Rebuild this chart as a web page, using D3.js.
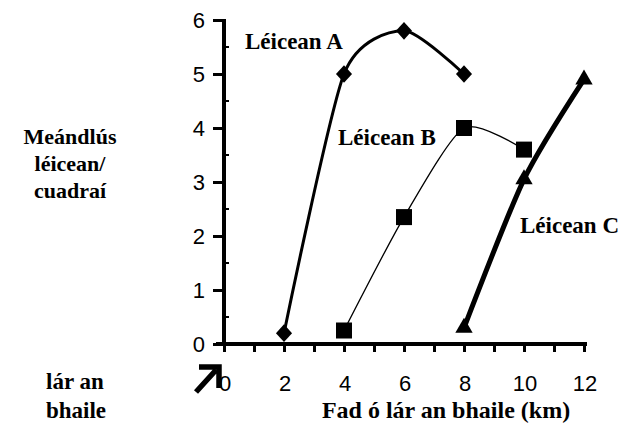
<!DOCTYPE html>
<html>
<head>
<meta charset="utf-8">
<script src="https://cdn.jsdelivr.net/npm/d3@7"></script>
<style>
  body { margin: 0; background: #fff; }
  .lbl { font-family: "Liberation Serif", "Times New Roman", serif; font-weight: bold; font-size: 23px; fill: #000; }
  .num { font-family: "Liberation Sans", Arial, sans-serif; font-size: 22px; fill: #000; }
</style>
</head>
<body>
<div id="chart"></div>
<script>
var xTicks = [0, 2, 4, 6, 8, 10, 12];
var yTicks = [0, 1, 2, 3, 4, 5, 6];

var schoolA_x = [2, 4, 6, 8];
var schoolA_y = [0.2, 5.0, 5.8, 5.0];
var schoolB_x = [4, 6, 8, 10];
var schoolB_y = [0.25, 2.35, 4.0, 3.6];
var schoolC_x = [8, 10, 12];
var schoolC_y = [0.3, 3.05, 4.9];

var width = 623, height = 425;

var svg = d3.select("#chart").append("svg")
    .attr("width", width)
    .attr("height", height);

var x = d3.scaleLinear().domain([0, 12]).range([224, 584]);
var y = d3.scaleLinear().domain([0, 6]).range([344, 20]);

// x axis: ticks every km, labels every 2
var xAxis = svg.append("g")
    .attr("transform", "translate(0," + y(0) + ")")
    .call(d3.axisBottom(x).tickValues(d3.range(0, 13)).tickSize(8).tickFormat(""));
xAxis.select(".domain").remove();
xAxis.selectAll("line").attr("stroke-width", 3);
svg.append("line")
    .attr("x1", 216).attr("x2", 587)
    .attr("y1", y(0)).attr("y2", y(0))
    .attr("stroke", "#000").attr("stroke-width", 4);

svg.append("g")
    .selectAll("text")
    .data(xTicks)
    .enter().append("text")
    .attr("class", "num")
    .attr("x", function (d) { return x(d) + 1; })
    .attr("y", 391)
    .attr("text-anchor", "middle")
    .text(function (d) { return d; });

// y axis
var yAxis = svg.append("g")
    .attr("transform", "translate(224,0)")
    .call(d3.axisLeft(y).tickValues(yTicks).tickSize(11).tickPadding(8).tickFormat(d3.format("d")));
yAxis.select(".domain").remove();
yAxis.selectAll("line").attr("stroke-width", 3);
yAxis.selectAll("text").attr("class", "num").attr("dy", "0.36em");

svg.append("g")
    .attr("transform", "translate(224,0)")
    .selectAll("line")
    .data(d3.range(0.5, 6, 1))
    .enter().append("line")
    .attr("x1", 0).attr("x2", 5)
    .attr("y1", function (d) { return y(d); })
    .attr("y2", function (d) { return y(d); })
    .attr("stroke", "#000").attr("stroke-width", 2);

svg.append("line")
    .attr("x1", 224).attr("x2", 224)
    .attr("y1", y(6) - 1).attr("y2", y(0) + 2)
    .attr("stroke", "#000").attr("stroke-width", 4);

// smoothed lines
var line = d3.line()
    .x(function (d) { return x(d[0]); })
    .y(function (d) { return y(d[1]); })
    .curve(d3.curveCardinal.tension(0.3));

function zip(xs, ys) {
    return xs.map(function (v, i) { return [v, ys[i]]; });
}

var dataA = zip(schoolA_x, schoolA_y);
var dataB = zip(schoolB_x, schoolB_y);
var dataC = zip(schoolC_x, schoolC_y);

svg.append("path").datum(dataA).attr("d", line)
    .attr("fill", "none").attr("stroke", "#000").attr("stroke-width", 3);
svg.append("path").datum(dataB).attr("d", line)
    .attr("fill", "none").attr("stroke", "#000").attr("stroke-width", 1.3);
svg.append("path").datum(dataC).attr("d", line)
    .attr("fill", "none").attr("stroke", "#000").attr("stroke-width", 5);

svg.selectAll(".ptA").data(dataA).enter().append("path")
    .attr("d", d3.symbol().type(d3.symbolDiamond2).size(165))
    .attr("transform", function (d) { return "translate(" + x(d[0]) + "," + y(d[1]) + ") scale(1,1.1)"; })
    .attr("fill", "#000");
svg.selectAll(".ptB").data(dataB).enter().append("rect")
    .attr("x", function (d) { return x(d[0]) - 8; })
    .attr("y", function (d) { return y(d[1]) - 8; })
    .attr("width", 16).attr("height", 16)
    .attr("fill", "#000");
svg.selectAll(".ptC").data(dataC).enter().append("path")
    .attr("d", d3.symbol().type(d3.symbolTriangle).size(130))
    .attr("transform", function (d) { return "translate(" + x(d[0]) + "," + y(d[1]) + ")"; })
    .attr("fill", "#000");

// labels
function label(tx, ty, s, anchor, size) {
    var t = svg.append("text").attr("class", "lbl")
        .attr("x", tx).attr("y", ty)
        .attr("text-anchor", anchor || "start")
        .text(s);
    if (size) t.style("font-size", size + "px");
}
label(245, 49, "Léicean A");
label(338, 145, "Léicean B");
label(520, 233, "Léicean C");
label(70, 144, "Meándlús", "middle", 22);
label(70, 171, "léicean/", "middle", 22);
label(70, 198, "cuadraí", "middle", 22);
label(46, 389, "lár an");
label(46, 418, "bhaile");
label(446, 418, "Fad ó lár an bhaile (km)", "middle", 24);

// arrow
svg.append("path")
    .attr("d", "M196,392 L216,370 M199,367 L219,367 L219,388")
    .attr("fill", "none").attr("stroke", "#000").attr("stroke-width", 5.5)
    .attr("stroke-linecap", "butt").attr("stroke-linejoin", "miter");
</script>
</body>
</html>
